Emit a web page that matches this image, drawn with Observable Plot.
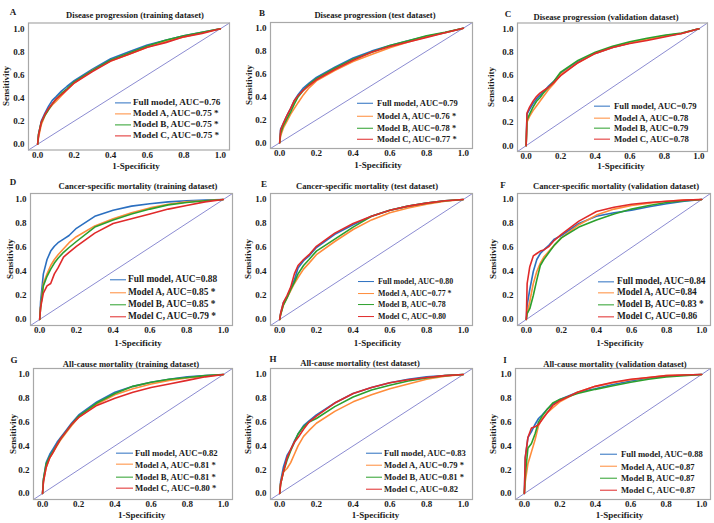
<!DOCTYPE html>
<html><head><meta charset="utf-8">
<script src="https://cdn.jsdelivr.net/npm/d3@7"></script>
<script src="https://cdn.jsdelivr.net/npm/@observablehq/plot@0.6"></script>
<style>
body{margin:0;background:#fff;}
#fig{position:relative;width:714px;height:523px;overflow:hidden;background:#fff;font-family:"Liberation Serif","Times New Roman",serif;font-weight:bold;color:#1a1a1a;}
.t{position:absolute;white-space:nowrap;transform:translate(-50%,-50%);line-height:1;}
.yl{position:absolute;white-space:nowrap;transform:translate(-50%,-50%) rotate(-90deg);line-height:1;}
.row{position:absolute;white-space:nowrap;transform:translateY(-50%);display:flex;align-items:center;line-height:1;}
.sw{display:inline-block;height:0;border-top:1.6px solid;}
</style></head><body><div id="fig"></div>
<script>
// ---------- data ----------
const fpr = [0, 0.005, 0.02, 0.04, 0.06, 0.08, 0.10, 0.13, 0.16, 0.20, 0.30, 0.40, 0.50, 0.60, 0.70, 0.80, 0.90, 1.0];
const modelNames = ["Full model", "Model A", "Model B", "Model C"];
const modelColors = ["#2b6fc0", "#ff8c3a", "#2ca02c", "#e02a2a"];
const tickValues = [0, 0.2, 0.4, 0.6, 0.8, 1.0];
const panelLetters = ["A","B","C","D","E","F","G","H","I"];
const panelTitles = [
  "Disease progression (training dataset)",
  "Disease progression (test dataset)",
  "Disease progression (validation dataset)",
  "Cancer-specific mortality (training dataset)",
  "Cancer-specific mortality (test dataset)",
  "Cancer-specific mortality (validation dataset)",
  "All-cause mortality (training dataset)",
  "All-cause mortality (test dataset)",
  "All-cause mortality (validation dataset)"
];
const xLabel = "1-Specificity";
const yLabel = "Sensitivity";

// Panel A
const tprA_full = [0,.08,.20,.27,.33,.38,.41,.46,.50,.55,.65,.74,.80,.86,.90,.94,.97,1];
const tprA_a    = [0,.06,.17,.25,.30,.34,.37,.42,.47,.53,.64,.72,.78,.84,.89,.93,.965,1];
const tprA_b    = [0,.09,.19,.25,.30,.35,.39,.44,.48,.54,.64,.73,.79,.85,.90,.94,.97,1];
const tprA_c    = [0,.08,.19,.26,.31,.35,.39,.43,.47,.53,.63,.72,.78,.84,.88,.93,.96,1];
const aucA = ["0.76","0.75","0.75","0.75"]; const starA = [false,true,true,true];
// Panel B
const tprB_full = [0,.12,.17,.24,.30,.37,.42,.48,.52,.57,.66,.74,.80,.85,.89,.93,.96,1];
const tprB_a    = [0,.06,.13,.19,.25,.30,.35,.42,.48,.54,.63,.71,.77,.83,.88,.925,.96,1];
const tprB_b    = [0,.08,.15,.21,.27,.34,.40,.46,.51,.56,.65,.73,.79,.85,.89,.935,.965,1];
const tprB_c    = [0,.11,.17,.24,.30,.37,.41,.46,.50,.55,.64,.72,.79,.84,.88,.92,.96,1];
const aucB = ["0.79","0.76","0.78","0.77"]; const starB = [false,true,true,true];
// Panel C
const tprC_full = [0,.27,.31,.36,.40,.43,.46,.51,.55,.62,.72,.79,.84,.88,.91,.94,.96,1];
const tprC_a    = [0,.20,.25,.30,.34,.38,.42,.48,.53,.61,.71,.79,.84,.88,.91,.94,.96,1];
const tprC_b    = [0,.22,.27,.33,.38,.41,.45,.50,.55,.63,.73,.80,.85,.89,.92,.945,.965,1];
const tprC_c    = [0,.28,.33,.38,.42,.45,.47,.50,.54,.60,.71,.79,.84,.875,.90,.93,.96,1];
const aucC = ["0.79","0.78","0.79","0.78"]; const starC = [false,false,false,false];
// Panel D
const tprD_full = [0,.15,.38,.50,.57,.61,.64,.67,.70,.76,.86,.91,.945,.965,.98,.99,.995,1];
const tprD_a    = [0,.10,.30,.38,.45,.50,.54,.59,.64,.69,.78,.84,.89,.93,.96,.98,.99,1];
const tprD_b    = [0,.10,.28,.36,.42,.47,.51,.56,.60,.65,.77,.83,.88,.92,.955,.975,.99,1];
const tprD_c    = [0,.10,.22,.28,.30,.38,.43,.52,.56,.61,.72,.80,.84,.88,.92,.95,.98,1];
const aucD = ["0.88","0.85","0.85","0.79"]; const starD = [false,true,true,true];
// Panel E
const tprE_full = [0,.05,.14,.19,.26,.33,.43,.49,.53,.60,.71,.79,.86,.91,.945,.97,.99,1];
const tprE_a    = [0,.04,.12,.18,.24,.30,.35,.42,.47,.54,.65,.75,.83,.89,.93,.96,.985,1];
const tprE_b    = [0,.04,.12,.18,.25,.31,.38,.45,.50,.57,.67,.77,.86,.91,.945,.97,.99,1];
const tprE_c    = [0,.05,.14,.20,.27,.38,.45,.50,.54,.61,.72,.80,.86,.91,.945,.97,.99,1];
const aucE = ["0.80","0.77","0.78","0.80"]; const starE = [false,true,false,false];
// Panel F
const tprF_full = [0,.12,.25,.40,.50,.55,.58,.62,.67,.70,.80,.86,.89,.91,.94,.965,.985,1];
const tprF_a    = [0,.05,.15,.30,.40,.47,.52,.57,.62,.68,.79,.87,.92,.95,.97,.985,.995,1];
const tprF_b    = [0,.05,.09,.20,.33,.45,.50,.56,.62,.68,.77,.83,.88,.92,.95,.975,.99,1];
const tprF_c    = [0,.30,.44,.53,.55,.57,.58,.61,.66,.71,.82,.90,.935,.96,.975,.985,.995,1];
const aucF = ["0.84","0.84","0.83","0.86"]; const starF = [false,false,true,false];
// Panel G
const tprG_full = [0,.12,.26,.33,.38,.43,.47,.53,.59,.66,.77,.85,.90,.935,.96,.98,.99,1];
const tprG_a    = [0,.10,.22,.30,.35,.40,.45,.51,.57,.64,.75,.83,.88,.92,.95,.97,.985,1];
const tprG_b    = [0,.12,.25,.31,.36,.41,.46,.52,.58,.65,.76,.84,.90,.935,.96,.975,.99,1];
const tprG_c    = [0,.10,.22,.30,.35,.41,.46,.52,.58,.64,.74,.80,.85,.89,.92,.95,.98,1];
const aucG = ["0.82","0.81","0.81","0.80"]; const starG = [false,true,true,true];
// Panel H
const tprH_full = [0,.10,.22,.32,.37,.44,.50,.57,.61,.66,.76,.84,.89,.93,.96,.98,.99,1];
const tprH_a    = [0,.08,.18,.21,.26,.33,.40,.48,.53,.59,.69,.77,.83,.88,.92,.96,.985,1];
const tprH_b    = [0,.08,.18,.28,.36,.43,.50,.56,.60,.63,.73,.81,.87,.91,.945,.97,.99,1];
const tprH_c    = [0,.08,.18,.30,.37,.43,.47,.54,.60,.65,.76,.84,.89,.93,.955,.975,.99,1];
const aucH = ["0.83","0.79","0.81","0.82"]; const starH = [false,true,true,false];
// Panel I
const tprI_full = [0,.30,.47,.52,.58,.63,.66,.71,.75,.79,.85,.88,.915,.945,.97,.985,.995,1];
const tprI_a    = [0,.10,.25,.35,.45,.57,.63,.68,.72,.77,.85,.90,.93,.955,.975,.99,.995,1];
const tprI_b    = [0,.15,.38,.42,.50,.60,.65,.71,.76,.79,.84,.875,.905,.935,.96,.98,.99,1];
const tprI_c    = [0,.30,.47,.55,.56,.58,.62,.68,.74,.78,.85,.90,.935,.96,.975,.99,.995,1];
const aucI = ["0.88","0.87","0.87","0.87"]; const starI = [false,false,false,false];

const panelTpr = [
  [tprA_full,tprA_a,tprA_b,tprA_c],[tprB_full,tprB_a,tprB_b,tprB_c],[tprC_full,tprC_a,tprC_b,tprC_c],
  [tprD_full,tprD_a,tprD_b,tprD_c],[tprE_full,tprE_a,tprE_b,tprE_c],[tprF_full,tprF_a,tprF_b,tprF_c],
  [tprG_full,tprG_a,tprG_b,tprG_c],[tprH_full,tprH_a,tprH_b,tprH_c],[tprI_full,tprI_a,tprI_b,tprI_c]
];
const panelAuc = [aucA,aucB,aucC,aucD,aucE,aucF,aucG,aucH,aucI];
const panelStar = [starA,starB,starC,starD,starE,starF,starG,starH,starI];

// ---------- layout (pixels) ----------
const layouts = [
  {cell:[0,0,235,172],   frame:[28,229,22.5,149.5], title:[135,15],    letter:[13,12],  ylab:6,   xlab:[136,166], leg:{x1:115,x2:131,tx:133,rows:[102.5,113.5,124.5,135.5],fs:9.2}},
  {cell:[235,0,237,172], frame:[270,472,22,148],    title:[375,15],    letter:[262,13], ylab:249, xlab:[378,165], leg:{x1:357,x2:373,tx:377,rows:[103.3,116,128,139.3],fs:8.5}},
  {cell:[472,0,242,172], frame:[517,707,22.5,151],  title:[606,17],    letter:[508,14], ylab:491, xlab:[621,166], leg:{x1:594,x2:610,tx:614,rows:[106,117.7,128.3,139],fs:8.7}},
  {cell:[0,172,235,174], frame:[30,232,193,325],    title:[138,185.7], letter:[13,182], ylab:10,  xlab:[138,342.5], leg:{x1:110,x2:126,tx:128,rows:[280,293,305,316.7],fs:9.4}},
  {cell:[235,172,237,174],frame:[270,472,193,325],  title:[367,185.7], letter:[264,184],ylab:248, xlab:[377.5,342.5],leg:{x1:358,x2:374,tx:378,rows:[281.7,294,305,316.7],fs:7.9}},
  {cell:[472,172,242,174],frame:[517,710,193,325],  title:[616,186],   letter:[503,185],ylab:493, xlab:[620,342.5], leg:{x1:598,x2:614,tx:617,rows:[281.7,293,305,316.7],fs:9.3}},
  {cell:[0,346,235,177], frame:[33,232,368,499],    title:[131,364.3], letter:[14,360], ylab:13,  xlab:[141.7,515],leg:{x1:116,x2:132.7,tx:135,rows:[453.3,464.5,476.7,488.3],fs:8.7}},
  {cell:[235,346,237,177],frame:[270,472,368,499],  title:[360,362.7], letter:[273,359],ylab:248, xlab:[375.5,515],leg:{x1:366,x2:382,tx:384,rows:[453.3,465,477.3,489],fs:8.6}},
  {cell:[472,346,242,177],frame:[515,710,368,499],  title:[615,364],   letter:[505,360],ylab:493, xlab:[619.5,515],leg:{x1:600,x2:617,tx:621,rows:[454.3,466.7,478.3,490],fs:8.6}}
];
const xyDomain = [-0.05, 1.05];

const fig = document.getElementById("fig");
function addText(cls, txt, x, y, fs) {
  const d = document.createElement("div");
  d.className = cls; d.textContent = txt;
  d.style.left = x + "px"; d.style.top = y + "px"; d.style.fontSize = fs + "px";
  fig.appendChild(d); return d;
}

panelTitles.forEach((title, p) => {
  const L = layouts[p];
  const [cx, cy, cw, ch] = L.cell;
  const [fL, fR, fT, fB] = L.frame;
  const curves = panelTpr[p].map((arr, m) =>
    Plot.line(fpr.map((f, i) => ({fpr: f, tpr: arr[i]})), {
      x: "fpr", y: "tpr", stroke: modelColors[m], strokeWidth: 1.6
    }));
  const chart = Plot.plot({
    width: cw, height: ch,
    marginLeft: fL - cx, marginRight: cx + cw - fR,
    marginTop: fT - cy, marginBottom: cy + ch - fB,
    x: {domain: xyDomain},
    y: {domain: xyDomain},
    style: {fontFamily: "'Liberation Serif','Times New Roman',serif", fontWeight: "bold", fontSize: "9px", color: "#1a1a1a", background: "transparent", overflow: "visible"},
    marks: [
      Plot.line(xyDomain, {x: d => d, y: d => d, stroke: "#8c8cd2", strokeWidth: 1}),
      ...curves,
      Plot.frame({stroke: "#a8a8a8", strokeWidth: 1.2}),
      Plot.axisX(tickValues, {tickSize: 0, tickPadding: 1.5, tickFormat: d => d.toFixed(1), label: null}),
      Plot.axisY(tickValues, {tickSize: 0, tickPadding: 4, tickFormat: d => d.toFixed(1), label: null})
    ]
  });
  chart.style.position = "absolute";
  chart.style.left = cx + "px";
  chart.style.top = cy + "px";
  fig.appendChild(chart);

  addText("t", title, L.title[0], L.title[1], 8.6);
  addText("t", panelLetters[p], L.letter[0], L.letter[1], 9);
  addText("t", xLabel, L.xlab[0], L.xlab[1], 9);
  addText("yl", yLabel, L.ylab, (fT + fB) / 2, 9);

  const lg = L.leg;
  modelNames.forEach((name, m) => {
    const row = document.createElement("div");
    row.className = "row";
    row.style.left = lg.x1 + "px";
    row.style.top = lg.rows[m] + "px";
    row.style.fontSize = lg.fs + "px";
    const sw = document.createElement("span");
    sw.className = "sw";
    sw.style.width = (lg.x2 - lg.x1) + "px";
    sw.style.borderTopColor = modelColors[m];
    sw.style.marginRight = (lg.tx - lg.x2) + "px";
    const tx = document.createElement("span");
    tx.textContent = name + ", AUC=" + panelAuc[p][m] + (panelStar[p][m] ? " *" : "");
    row.appendChild(sw); row.appendChild(tx);
    fig.appendChild(row);
  });
});
</script></body></html>
